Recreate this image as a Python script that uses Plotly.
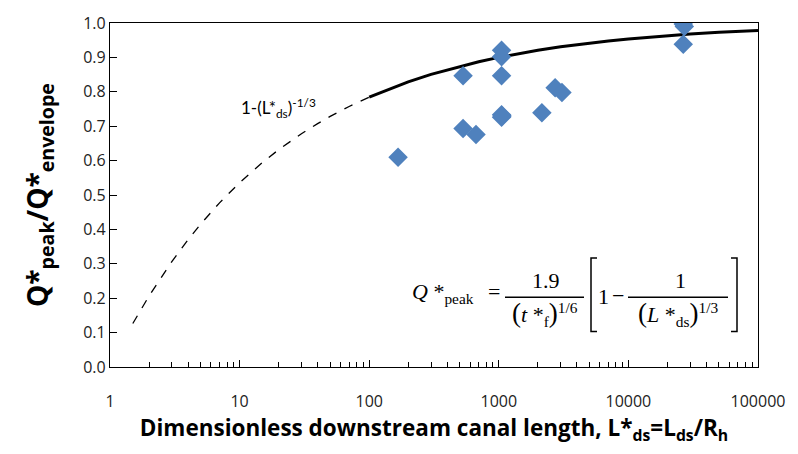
import plotly.graph_objects as go

# Observed data (L*ds, Q*peak/Q*envelope)
obs_x = [167, 530, 530, 667, 1050, 1050, 1050, 1050, 1050, 1060, 2150, 2720, 3070, 26500, 27000, 26500]
obs_y = [0.61, 0.693, 0.847, 0.676, 0.921, 0.902, 0.847, 0.733, 0.726, 0.73, 0.739, 0.812, 0.798, 0.997, 0.99, 0.938]

# Curve 1-(L*ds)^(-1/3): dashed part (extrapolated) and solid part
dash_x = [1.5, 2, 3, 4, 5, 7, 10, 15, 20, 30, 40, 50, 70, 100]
solid_x = [100, 150, 200, 300, 500, 700, 1000, 1500, 2000, 3000, 5000, 7000, 10000, 20000, 30000, 50000, 70000, 100000]
dash_y = [1 - v ** (-1 / 3) for v in dash_x]
solid_y = [1 - v ** (-1 / 3) for v in solid_x]

x_ticks = [1, 10, 100, 1000, 10000, 100000]
x_minor = [m * 10 ** d for d in range(5) for m in range(2, 10)]
y_ticks = [0.0, 0.1, 0.2, 0.3, 0.4, 0.5, 0.6, 0.7, 0.8, 0.9, 1.0]

W, H = 798, 454
L, R, T, B = 110, 40, 17, 87
pw, ph = W - L - R, H - T - B


def px(x):
    return (x - L) / pw


def py(y):
    return (H - B - y) / ph


fig = go.Figure()
fig.add_trace(go.Scatter(x=dash_x, y=dash_y, mode="lines",
                         line=dict(color="black", width=1.3, dash="dash"), showlegend=False))
fig.add_trace(go.Scatter(x=solid_x, y=solid_y, mode="lines",
                         line=dict(color="black", width=3), showlegend=False))
fig.add_trace(go.Scatter(x=obs_x, y=obs_y, mode="markers",
                         marker=dict(symbol="diamond", size=15, color="#4F81BD"), showlegend=False))

sans = "Open Sans, Lato, sans-serif"
tickfont = dict(family=sans, size=16, color="#222")

fig.update_xaxes(type="log", range=[0, 5], tickvals=x_ticks, ticktext=[str(v) for v in x_ticks],
                 ticks="inside", ticklen=7, tickcolor="black", showline=True, linecolor="black",
                 linewidth=1.2, mirror=True, showgrid=False, zeroline=False, tickfont=tickfont,
                 ticklabelstandoff=20,
                 minor=dict(tickvals=x_minor, ticks="inside", ticklen=5, tickcolor="black", showgrid=False),
                 title=dict(text="<b>Dimensionless downstream canal length, L*<sub>ds</sub>=L<sub>ds</sub>/R<sub>h</sub></b>",
                            font=dict(family=sans, size=22.5, color="black"), standoff=4))
fig.update_yaxes(range=[0, 1], tickvals=y_ticks, tickformat=".1f",
                 ticks="inside", ticklen=7, tickcolor="black", showline=True, linecolor="black",
                 linewidth=1.2, mirror=True, showgrid=False, zeroline=False, tickfont=tickfont,
                 title=dict(text="<b>Q*<sub>peak</sub>/Q*<sub>envelope</sub></b>",
                            font=dict(family=sans, size=28, color="black"), standoff=26))

annotations = [
    dict(x=px(278), y=py(103), text="1-(L*<sub>ds</sub>)<sup>-1/3</sup>",
         font=dict(family="Lato, Open Sans, sans-serif", size=17, color="black")),
]
serif = dict(family="Liberation Serif, Times New Roman, serif", size=22, color="black")
big = '<span style="font-size:27px">'
annotations += [
    dict(x=px(443), y=py(292), text="<i>Q</i> *<sub>peak</sub>", font=serif),
    dict(x=px(494), y=py(290), text="=", font=serif),
    dict(x=px(546), y=py(279), text="1.9", font=serif),
    dict(x=px(545), y=py(313), text=f"{big}(</span><i>t</i> *<sub>f</sub>{big})</span><sup>1/6</sup>", font=serif),
    dict(x=px(603), y=py(295), text="1", font=serif),
    dict(x=px(618), y=py(294), text="−", font=serif),
    dict(x=px(680), y=py(279), text="1", font=serif),
    dict(x=px(678), y=py(313), text=f"{big}(</span><i>L</i> *<sub>ds</sub>{big})</span><sup>1/3</sup>", font=serif),
]
for a in annotations:
    a.update(xref="paper", yref="paper", showarrow=False, xanchor="center", yanchor="middle")
fig.update_layout(annotations=annotations)

shapes = [
    dict(type="line", x0=px(505), x1=px(584), y0=py(296), y1=py(296)),
    dict(type="line", x0=px(628), x1=px(728), y0=py(296), y1=py(296)),
    dict(type="path", path=f"M {px(597)} {py(256)} L {px(591)} {py(256)} L {px(591)} {py(331)} L {px(597)} {py(331)}"),
    dict(type="path", path=f"M {px(731)} {py(256)} L {px(737)} {py(256)} L {px(737)} {py(331)} L {px(731)} {py(331)}"),
]
for s in shapes:
    s.update(xref="paper", yref="paper", line=dict(color="black", width=1.5))
fig.update_layout(shapes=shapes)

fig.update_layout(width=W, height=H, margin=dict(l=L, r=R, t=T, b=B),
                  paper_bgcolor="white", plot_bgcolor="white")
fig.write_html("out.html")
